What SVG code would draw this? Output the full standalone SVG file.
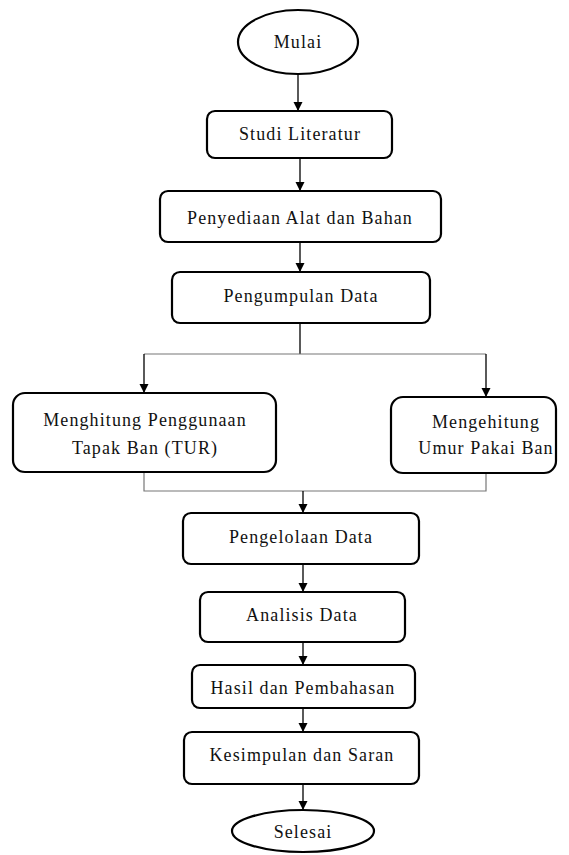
<svg xmlns="http://www.w3.org/2000/svg" width="569" height="855" viewBox="0 0 569 855">
<defs>
<marker id="ah" markerWidth="9" markerHeight="10" refX="10" refY="5" orient="auto" markerUnits="userSpaceOnUse" viewBox="0 0 10 10" preserveAspectRatio="none">
<path d="M0,0.5 L10,5 L0,9.5 Z" fill="#000"/>
</marker>
</defs>
<style>
.box{fill:#fff;stroke:#000;stroke-width:2.2}
.t{font-size:18px;letter-spacing:1.1px;fill:#111;text-anchor:middle}
.c{fill:none;stroke:#000;stroke-width:1.3}
.g{fill:none;stroke:#777;stroke-width:1.2}
</style>
<rect width="569" height="855" fill="#fff"/>
<g id="connectors">
<line class="c" x1="298" y1="74" x2="298" y2="111" marker-end="url(#ah)"/>
<line class="c" x1="300" y1="158" x2="300" y2="191" marker-end="url(#ah)"/>
<line class="c" x1="300" y1="242" x2="300" y2="272" marker-end="url(#ah)"/>
<line class="c" x1="300" y1="323" x2="300" y2="354"/>
<polyline class="g" points="144,354 486,354"/>
<line class="c" x1="144" y1="354" x2="144" y2="393" marker-end="url(#ah)"/>
<line class="c" x1="486" y1="354" x2="486" y2="397" marker-end="url(#ah)"/>
<polyline class="g" points="144,472 144,491 486,491 486,473"/>
<line class="c" x1="303" y1="491" x2="303" y2="513" marker-end="url(#ah)"/>
<line class="c" x1="303" y1="564" x2="303" y2="592" marker-end="url(#ah)"/>
<line class="c" x1="303" y1="642" x2="303" y2="665" marker-end="url(#ah)"/>
<line class="c" x1="303" y1="708" x2="303" y2="732" marker-end="url(#ah)"/>
<line class="c" x1="303" y1="784" x2="303" y2="810" marker-end="url(#ah)"/>
</g>
<g font-family="Liberation Serif, serif">
<g id="mulai">
<ellipse class="box" cx="298" cy="42" rx="60" ry="32"/>
<text class="t" x="298" y="48">Mulai</text>
</g>
<g id="studi">
<rect class="box" x="207" y="111" width="185" height="47" rx="8"/>
<text class="t" x="300" y="140">Studi Literatur</text>
</g>
<g id="penyediaan">
<rect class="box" x="160" y="191" width="281" height="51" rx="8"/>
<text class="t" x="300" y="224">Penyediaan Alat dan Bahan</text>
</g>
<g id="pengumpulan">
<rect class="box" x="172" y="272" width="258" height="51" rx="8"/>
<text class="t" x="301" y="302">Pengumpulan Data</text>
</g>
<g id="tur">
<rect class="box" x="13" y="393" width="263" height="79" rx="12"/>
<text class="t" x="145" y="426">Menghitung Penggunaan</text>
<text class="t" x="145" y="454">Tapak Ban (TUR)</text>
</g>
<g id="umur">
<rect class="box" x="391" y="397" width="165" height="76" rx="12"/>
<text class="t" x="486" y="428">Mengehitung</text>
<text class="t" x="486" y="454">Umur Pakai Ban</text>
</g>
<g id="pengelolaan">
<rect class="box" x="183" y="513" width="236" height="51" rx="8"/>
<text class="t" x="301" y="543">Pengelolaan Data</text>
</g>
<g id="analisis">
<rect class="box" x="200" y="592" width="205" height="50" rx="8"/>
<text class="t" x="302" y="621">Analisis Data</text>
</g>
<g id="hasil">
<rect class="box" x="192" y="665" width="223" height="43" rx="8"/>
<text class="t" x="303" y="694">Hasil dan Pembahasan</text>
</g>
<g id="kesimpulan">
<rect class="box" x="184" y="732" width="235" height="52" rx="8"/>
<text class="t" x="302" y="761">Kesimpulan dan Saran</text>
</g>
<g id="selesai">
<ellipse class="box" cx="303" cy="831" rx="71" ry="21"/>
<text class="t" x="303" y="838">Selesai</text>
</g>
</g>
</svg>
